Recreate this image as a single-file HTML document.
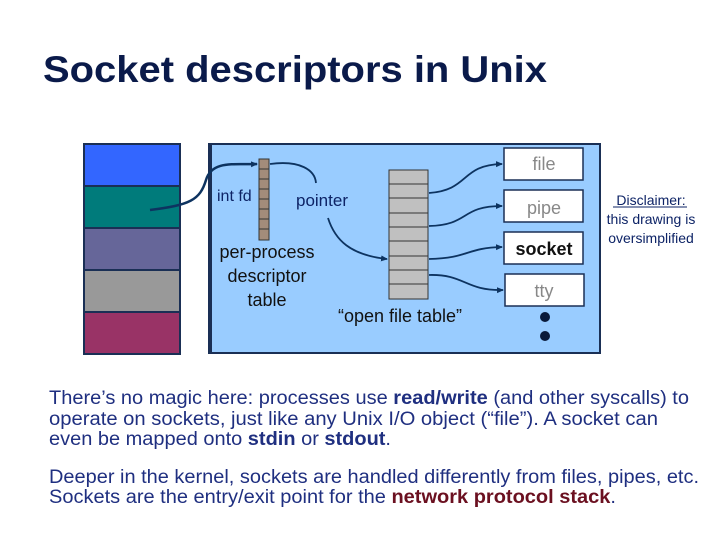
<!DOCTYPE html>
<html><head><style>body{margin:0;background:#fff}svg{display:block}</style></head><body>
<svg width="720" height="540" viewBox="0 0 720 540" font-family="Liberation Sans, sans-serif">
<defs><marker id="a" markerWidth="8" markerHeight="8" refX="6" refY="4" orient="auto" markerUnits="userSpaceOnUse"><path d="M0,1 L7,4 L0,7z" fill="#0d3360"/></marker></defs>
<text x="43" y="82" font-size="37" font-weight="bold" fill="#0a1a4a" textLength="504" lengthAdjust="spacingAndGlyphs">Socket descriptors in Unix</text>
<g stroke="#1a2f55" stroke-width="2">
<rect x="84" y="144" width="96" height="42" fill="#3366ff"/>
<rect x="84" y="186" width="96" height="42" fill="#007b7b"/>
<rect x="84" y="228" width="96" height="42" fill="#666699"/>
<rect x="84" y="270" width="96" height="42" fill="#999999"/>
<rect x="84" y="312" width="96" height="42" fill="#993366"/>
</g>
<rect x="209" y="144" width="391" height="209" fill="#99ccff" stroke="#1a2f55" stroke-width="2"/>
<rect x="208" y="144" width="4" height="210" fill="#1a2f55"/>
<g stroke="#333" stroke-width="1" fill="#a38c7a">
<rect x="259" y="159" width="10" height="81"/>
<path d="M259 169h10M259 179h10M259 189h10M259 199h10M259 209h10M259 219h10M259 229h10"/>
</g>
<g stroke="#333" stroke-width="1" fill="#c0c0c0">
<rect x="389" y="170" width="39" height="129"/>
<path d="M389 184h39M389 198h39M389 213h39M389 227h39M389 241h39M389 256h39M389 270h39M389 284h39"/>
</g>
<g fill="#fff" stroke="#1a2f55" stroke-width="1.5">
<rect x="504" y="148" width="79" height="32"/>
<rect x="504" y="190" width="79" height="32"/>
<rect x="504" y="232" width="79" height="32"/>
<rect x="505" y="274" width="79" height="32"/>
</g>
<circle cx="545" cy="317" r="5" fill="#0a1a3a"/>
<circle cx="545" cy="336" r="5" fill="#0a1a3a"/>
<g fill="none" stroke="#0d3360" stroke-width="2.5">
<path d="M150 210 C190 205 200 200 206 180 C212 160 235 165 257 164" marker-end="url(#a)"/>
</g>
<g fill="none" stroke="#0d3360" stroke-width="1.8">
<path d="M270 164 C300 160 315 170 316 183"/>
<path d="M328 218 C335 240 350 255 387 259" marker-end="url(#a)"/>
<path d="M429 193 C470 190 460 165 502 164" marker-end="url(#a)"/>
<path d="M429 226 C470 225 460 206 502 206" marker-end="url(#a)"/>
<path d="M429 259 C470 258 465 248 502 247" marker-end="url(#a)"/>
<path d="M429 275 C465 274 465 291 503 290" marker-end="url(#a)"/>
</g>
<g font-size="17" fill="#0d2366">
<text x="217" y="201" font-size="16">int fd</text>
<text x="296" y="206">pointer</text>
</g>
<g font-size="18" fill="#111" text-anchor="middle">
<text x="267" y="258">per-process</text>
<text x="267" y="282">descriptor</text>
<text x="267" y="306">table</text>
<text x="400" y="322">“open file table”</text>
</g>
<g font-size="18" fill="#888" text-anchor="middle">
<text x="544" y="170">file</text>
<text x="544" y="214">pipe</text>
<text x="544" y="297">tty</text>
</g>
<text x="544" y="255" font-size="18" font-weight="bold" fill="#111" text-anchor="middle">socket</text>
<g font-size="14" fill="#0d2366" text-anchor="middle">
<text x="651" y="205">Disclaimer:</text>
<text x="651" y="224">this drawing is</text>
<text x="651" y="243">oversimplified</text>
</g>
<line x1="613" y1="207" x2="687" y2="207" stroke="#0d2366" stroke-width="1"/>
<g font-size="19" fill="#1f2f80">
<text x="49" y="404" textLength="640" lengthAdjust="spacingAndGlyphs">There’s no magic here: processes use <tspan font-weight="bold">read/write</tspan> (and other syscalls) to</text>
<text x="49" y="425" textLength="609" lengthAdjust="spacingAndGlyphs">operate on sockets, just like any Unix I/O object (“file”).  A socket can</text>
<text x="49" y="445" textLength="342" lengthAdjust="spacingAndGlyphs">even be mapped onto <tspan font-weight="bold">stdin</tspan> or <tspan font-weight="bold">stdout</tspan>.</text>
<text x="49" y="483" textLength="650" lengthAdjust="spacingAndGlyphs">Deeper in the kernel, sockets are handled differently from files, pipes, etc.</text>
<text x="49" y="503" textLength="567" lengthAdjust="spacingAndGlyphs">Sockets are the entry/exit point for the <tspan font-weight="bold" fill="#6b1020">network protocol stack</tspan>.</text>
</g>
</svg>
</body></html>
